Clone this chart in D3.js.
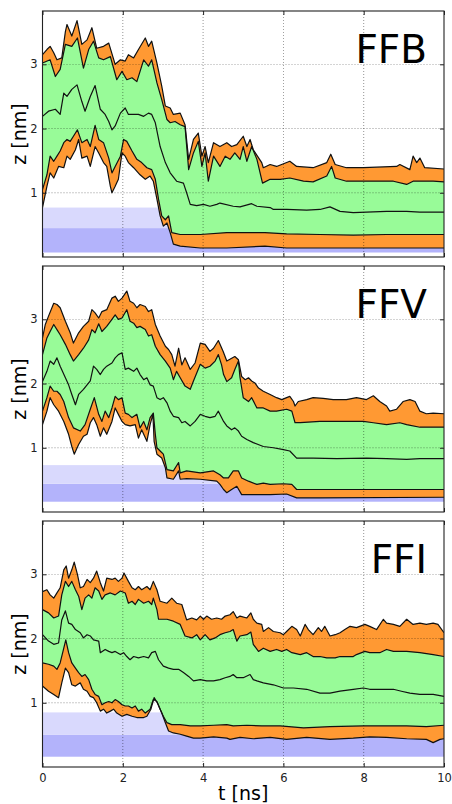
<!DOCTYPE html>
<html>
<head>
<meta charset="utf-8">
<script src="https://cdn.jsdelivr.net/npm/d3@7"></script>
<style>
  body { margin: 0; background: #fff; }
  svg { display: block; }
</style>
</head>
<body>
<script>
// values: [t (ns), z (nm)]
const ffbOuterTop = [[0,3.15],[0.11,3.23],[0.19,3.28],[0.28,3.18],[0.36,3.07],[0.48,3.10],[0.57,3.51],[0.61,3.62],[0.73,3.44],[0.86,3.68],[0.98,3.31],[1.11,3.38],[1.23,3.57],[1.35,3.25],[1.52,3.28],[1.65,3.33],[1.81,3.00],[1.94,3.07],[2.06,3.05],[2.14,3.15],[2.27,3.10],[2.39,3.23],[2.56,3.41],[2.64,3.28],[2.72,3.36],[2.85,3.02],[2.97,2.66],[3.06,2.35],[3.18,2.32],[3.26,2.22],[3.43,2.24],[3.55,2.06],[3.64,1.52],[3.76,1.83],[3.88,1.93],[3.97,1.57],[4.05,1.72],[4.13,1.47],[4.26,1.78],[4.42,1.72],[4.59,1.78],[4.71,1.72],[4.84,1.75],[5.00,1.88],[5.09,1.72],[5.17,1.83],[5.25,1.67],[5.46,1.47],[5.50,1.39],[5.67,1.44],[5.83,1.41],[6.16,1.49],[6.33,1.41],[6.74,1.39],[7.08,1.47],[7.18,1.60],[7.29,1.44],[7.57,1.39],[7.99,1.39],[8.82,1.41],[8.90,1.44],[9.15,1.36],[9.23,1.57],[9.32,1.47],[9.40,1.54],[9.52,1.39],[10,1.37]];
const ffbInnerTop = [[0,3.02],[0.19,3.07],[0.32,2.81],[0.44,2.92],[0.57,3.31],[0.73,3.28],[0.87,3.41],[1.02,2.94],[1.15,3.23],[1.27,3.36],[1.40,3.10],[1.52,3.07],[1.69,3.12],[1.85,2.76],[1.98,2.89],[2.10,2.76],[2.23,2.79],[2.35,2.73],[2.52,3.07],[2.64,2.97],[2.72,3.07],[2.85,2.71],[2.97,2.45],[3.10,2.14],[3.18,2.09],[3.30,2.11],[3.43,2.06],[3.55,2.03],[3.64,1.36],[3.76,1.62],[3.88,1.80],[3.97,1.41],[4.05,1.62],[4.13,1.18],[4.26,1.57],[4.42,1.41],[4.55,1.57],[4.67,1.52],[4.79,1.62],[4.92,1.52],[5.00,1.72],[5.09,1.49],[5.21,1.72],[5.34,1.52],[5.48,1.15],[5.67,1.21],[5.92,1.21],[6.16,1.23],[6.50,1.18],[6.74,1.17],[7.08,1.26],[7.20,1.41],[7.29,1.23],[7.57,1.18],[8.07,1.18],[8.74,1.18],[9.07,1.13],[9.23,1.18],[9.73,1.18],[10,1.17]];
const ffbCenter = [[0,2.19],[0.15,2.27],[0.32,2.30],[0.44,2.22],[0.53,2.55],[0.61,2.50],[0.73,2.61],[0.86,2.68],[0.98,2.42],[1.06,2.27],[1.19,2.50],[1.31,2.67],[1.44,2.30],[1.56,2.22],[1.65,2.11],[1.73,1.98],[1.81,2.04],[1.94,2.24],[2.06,2.32],[2.14,2.22],[2.27,2.22],[2.39,2.22],[2.52,2.19],[2.64,2.24],[2.72,2.22],[2.81,2.09],[2.93,1.72],[3.06,1.47],[3.18,1.31],[3.34,1.18],[3.51,1.15],[3.59,1.00],[3.68,0.82],[3.84,0.80],[4.01,0.82],[4.17,0.79],[4.34,0.82],[4.42,0.84],[4.75,0.79],[4.92,0.78],[5.21,0.83],[5.34,0.79],[5.67,0.77],[5.75,0.74],[6.08,0.74],[6.58,0.73],[6.91,0.74],[7.16,0.78],[7.41,0.71],[7.74,0.69],[8.57,0.71],[9.07,0.71],[9.40,0.70],[10,0.70]];
const ffbInnerBottom = [[0,1.05],[0.11,1.28],[0.19,1.57],[0.28,1.49],[0.36,1.57],[0.44,1.65],[0.53,1.78],[0.61,1.83],[0.69,1.80],[0.77,1.88],[0.87,1.98],[0.98,1.78],[1.11,1.83],[1.19,1.72],[1.31,2.05],[1.40,1.83],[1.52,1.78],[1.65,1.54],[1.73,1.31],[1.81,1.41],[1.94,1.57],[2.02,1.83],[2.10,1.80],[2.23,1.65],[2.35,1.52],[2.47,1.47],[2.60,1.39],[2.72,1.36],[2.81,1.21],[2.89,0.90],[2.97,0.64],[3.06,0.58],[3.14,0.64],[3.22,0.38],[3.43,0.35],[3.93,0.35],[4.59,0.38],[5.54,0.38],[6.08,0.36],[6.91,0.35],[7.74,0.34],[8.57,0.35],[9.40,0.35],[10,0.35]];
const ffbOuterBottom = [[0,0.77],[0.11,1.10],[0.19,1.31],[0.28,1.23],[0.40,1.41],[0.53,1.39],[0.61,1.57],[0.69,1.52],[0.82,1.67],[0.90,1.83],[0.98,1.54],[1.11,1.57],[1.19,1.41],[1.31,1.72],[1.40,1.62],[1.52,1.47],[1.60,1.41],[1.69,1.10],[1.73,1.00],[1.81,1.10],[1.89,1.21],[1.98,1.62],[2.06,1.57],[2.14,1.47],[2.27,1.39],[2.43,1.28],[2.56,1.21],[2.68,1.26],[2.76,1.18],[2.85,0.90],[2.93,0.64],[3.01,0.48],[3.10,0.53],[3.18,0.38],[3.26,0.20],[3.43,0.17],[3.93,0.14],[4.59,0.14],[5.54,0.17],[6.08,0.14],[10,0.14]];

const ffvOuterTop = [[0,2.71],[0.07,2.92],[0.15,3.05],[0.28,3.25],[0.36,3.23],[0.44,3.18],[0.57,2.97],[0.69,2.79],[0.77,2.63],[0.90,2.79],[1.02,2.89],[1.15,2.97],[1.23,3.15],[1.31,3.10],[1.40,3.02],[1.48,3.12],[1.60,3.15],[1.73,3.33],[1.81,3.36],[1.89,3.28],[1.98,3.33],[2.10,3.44],[2.18,3.28],[2.27,3.25],[2.35,3.18],[2.43,3.23],[2.56,3.20],[2.64,3.12],[2.72,3.15],[2.81,2.92],[2.93,2.74],[3.06,2.58],[3.14,2.53],[3.22,2.45],[3.30,2.27],[3.39,2.55],[3.47,2.29],[3.55,2.40],[3.68,2.22],[3.80,2.32],[3.93,2.63],[4.05,2.61],[4.17,2.50],[4.26,2.55],[4.38,2.67],[4.50,2.50],[4.59,2.35],[4.79,2.42],[4.88,2.37],[4.96,2.11],[5.05,2.06],[5.13,2.09],[5.21,2.04],[5.29,2.01],[5.38,1.93],[5.50,1.88],[5.67,1.83],[5.83,1.78],[5.96,1.75],[6.08,1.78],[6.16,1.80],[6.25,1.72],[6.29,1.65],[6.37,1.72],[6.58,1.75],[6.74,1.78],[6.99,1.77],[7.24,1.75],[7.57,1.75],[7.82,1.78],[8.07,1.75],[8.24,1.81],[8.40,1.72],[8.57,1.65],[8.65,1.57],[8.82,1.60],[8.98,1.72],[9.15,1.75],[9.28,1.72],[9.40,1.57],[9.56,1.53],[9.73,1.54],[10,1.53]];
const ffvInnerTop = [[0,2.45],[0.11,2.71],[0.19,2.81],[0.28,2.92],[0.36,2.84],[0.44,2.76],[0.57,2.61],[0.69,2.45],[0.77,2.35],[0.90,2.45],[1.02,2.55],[1.15,2.68],[1.23,2.84],[1.31,2.79],[1.40,2.93],[1.48,2.81],[1.60,2.89],[1.73,3.00],[1.81,3.07],[1.89,3.00],[1.98,3.02],[2.10,3.15],[2.18,2.97],[2.27,2.94],[2.35,2.87],[2.43,2.89],[2.56,2.84],[2.64,2.74],[2.72,2.76],[2.81,2.58],[2.93,2.45],[3.06,2.35],[3.18,2.24],[3.26,2.06],[3.34,2.19],[3.43,2.09],[3.55,1.96],[3.68,1.91],[3.76,2.04],[3.93,2.30],[4.05,2.24],[4.17,2.27],[4.30,2.35],[4.38,2.45],[4.46,2.29],[4.51,2.14],[4.59,2.03],[4.71,2.09],[4.79,2.22],[4.88,2.35],[4.92,2.09],[5.00,1.78],[5.13,1.72],[5.21,1.78],[5.34,1.62],[5.50,1.62],[5.67,1.57],[5.83,1.57],[6.08,1.60],[6.21,1.57],[6.29,1.39],[6.42,1.39],[6.91,1.41],[7.41,1.41],[7.99,1.41],[8.24,1.39],[8.57,1.36],[8.90,1.39],[9.07,1.36],[9.40,1.32],[10,1.32]];
const ffvCenter = [[0,2.03],[0.11,2.19],[0.19,2.35],[0.28,2.30],[0.36,2.40],[0.44,2.27],[0.57,2.09],[0.65,1.98],[0.73,1.83],[0.82,1.67],[0.90,1.83],[1.02,1.91],[1.11,1.98],[1.19,2.04],[1.27,2.27],[1.35,2.22],[1.44,2.14],[1.52,2.22],[1.60,2.27],[1.73,2.32],[1.81,2.40],[1.89,2.45],[1.98,2.48],[2.06,2.22],[2.14,2.24],[2.27,2.19],[2.35,2.24],[2.43,2.14],[2.52,2.06],[2.60,2.09],[2.68,1.98],[2.76,1.96],[2.85,1.78],[2.93,1.75],[3.01,1.78],[3.10,1.70],[3.18,1.57],[3.26,1.49],[3.39,1.47],[3.47,1.39],[3.55,1.41],[3.68,1.34],[3.80,1.41],[3.93,1.52],[4.05,1.49],[4.17,1.47],[4.30,1.49],[4.38,1.57],[4.51,1.41],[4.59,1.34],[4.71,1.28],[4.79,1.31],[4.88,1.26],[4.96,1.18],[5.09,1.13],[5.25,1.08],[5.50,1.02],[5.75,1.00],[6.00,0.97],[6.16,0.95],[6.33,0.84],[6.74,0.84],[7.33,0.83],[8.07,0.84],[8.57,0.83],[9.07,0.82],[9.40,0.83],[10,0.83]];
const ffvInnerBottom = [[0,1.57],[0.11,1.78],[0.19,1.96],[0.28,1.88],[0.36,1.88],[0.44,1.83],[0.53,1.72],[0.65,1.47],[0.77,1.31],[0.94,1.26],[1.06,1.36],[1.19,1.60],[1.29,1.78],[1.40,1.52],[1.48,1.41],[1.56,1.57],[1.65,1.47],[1.73,1.62],[1.81,1.80],[1.89,1.75],[1.98,1.78],[2.06,1.54],[2.14,1.52],[2.23,1.47],[2.35,1.52],[2.43,1.31],[2.52,1.41],[2.60,1.28],[2.68,1.47],[2.76,1.54],[2.81,1.21],[2.85,1.00],[2.93,0.95],[3.01,0.90],[3.10,0.66],[3.26,0.64],[3.39,0.77],[3.43,0.61],[3.59,0.64],[3.93,0.61],[4.26,0.64],[4.42,0.58],[4.51,0.53],[4.63,0.53],[4.75,0.64],[4.88,0.64],[4.96,0.53],[5.13,0.48],[5.34,0.43],[5.50,0.45],[5.67,0.43],[6.00,0.44],[6.21,0.43],[6.33,0.35],[6.91,0.35],[7.74,0.35],[8.57,0.35],[9.40,0.35],[10,0.35]];
const ffvOuterBottom = [[0,1.36],[0.11,1.57],[0.19,1.78],[0.28,1.67],[0.40,1.57],[0.53,1.41],[0.65,1.21],[0.73,1.02],[0.79,0.90],[0.90,1.05],[1.02,1.18],[1.11,1.21],[1.19,1.39],[1.27,1.47],[1.35,1.36],[1.44,1.18],[1.52,1.31],[1.60,1.21],[1.73,1.41],[1.81,1.62],[1.89,1.52],[1.98,1.41],[2.06,1.36],[2.18,1.34],[2.31,1.36],[2.39,1.15],[2.47,1.28],[2.60,1.10],[2.68,1.36],[2.75,1.52],[2.78,1.10],[2.85,0.90],[2.97,0.84],[3.06,0.69],[3.10,0.53],[3.26,0.51],[3.39,0.64],[3.43,0.51],[3.59,0.52],[3.93,0.51],[4.34,0.48],[4.42,0.43],[4.51,0.35],[4.59,0.30],[4.71,0.35],[4.84,0.40],[4.96,0.27],[5.25,0.27],[5.67,0.27],[6.08,0.28],[6.33,0.22],[6.91,0.22],[10,0.23]];

const ffiOuterTop = [[0,2.73],[0.11,2.76],[0.19,2.68],[0.28,2.63],[0.36,2.71],[0.44,2.79],[0.53,3.07],[0.59,3.13],[0.65,2.94],[0.73,3.07],[0.79,3.19],[0.87,3.00],[0.94,2.79],[1.02,2.81],[1.11,2.92],[1.19,2.87],[1.27,2.94],[1.35,3.05],[1.44,2.87],[1.52,2.74],[1.60,2.94],[1.73,2.92],[1.81,2.94],[1.89,2.89],[1.98,2.94],[2.03,3.02],[2.14,2.89],[2.23,2.79],[2.31,2.76],[2.39,2.81],[2.47,2.76],[2.60,2.81],[2.68,2.76],[2.76,2.89],[2.85,2.76],[2.93,2.58],[3.10,2.55],[3.22,2.63],[3.34,2.55],[3.47,2.53],[3.59,2.29],[3.72,2.32],[3.84,2.29],[3.93,2.35],[4.01,2.30],[4.09,2.35],[4.21,2.30],[4.34,2.32],[4.46,2.30],[4.55,2.35],[4.67,2.37],[4.75,2.42],[4.84,2.32],[4.92,2.35],[5.09,2.32],[5.19,2.40],[5.25,2.30],[5.34,2.24],[5.46,2.22],[5.50,2.11],[5.63,2.17],[5.75,2.11],[5.92,2.09],[6.00,2.06],[6.08,2.11],[6.21,2.19],[6.33,2.14],[6.42,2.04],[6.54,2.22],[6.62,2.14],[6.74,2.06],[6.87,2.17],[6.95,2.11],[7.03,2.19],[7.16,2.04],[7.29,2.06],[7.41,2.09],[7.53,2.14],[7.66,2.19],[7.82,2.17],[8.03,2.22],[8.15,2.19],[8.32,2.14],[8.49,2.30],[8.57,2.24],[8.74,2.22],[8.90,2.19],[9.07,2.30],[9.23,2.22],[9.40,2.24],[9.56,2.22],[9.73,2.24],[9.85,2.22],[10,2.09]];
const ffiInnerTop = [[0,2.45],[0.15,2.40],[0.28,2.32],[0.40,2.35],[0.48,2.68],[0.57,2.89],[0.65,2.81],[0.73,2.89],[0.82,2.76],[0.90,2.66],[0.98,2.45],[1.06,2.63],[1.15,2.68],[1.23,2.63],[1.31,2.79],[1.40,2.74],[1.48,2.61],[1.56,2.68],[1.69,2.71],[1.81,2.68],[1.94,2.74],[2.06,2.71],[2.14,2.55],[2.23,2.58],[2.31,2.53],[2.39,2.61],[2.52,2.55],[2.64,2.58],[2.72,2.53],[2.76,2.63],[2.85,2.45],[2.89,2.30],[3.10,2.30],[3.26,2.27],[3.43,2.22],[3.55,2.04],[3.72,2.01],[3.84,2.06],[3.93,1.98],[4.05,2.06],[4.17,1.98],[4.30,2.01],[4.42,2.06],[4.55,2.09],[4.67,2.11],[4.75,2.14],[4.84,1.96],[4.92,2.04],[5.09,2.06],[5.19,2.10],[5.25,1.91],[5.38,1.80],[5.50,1.85],[5.67,1.80],[5.83,1.83],[5.96,1.80],[6.08,1.83],[6.21,1.78],[6.42,1.75],[6.58,1.78],[6.74,1.72],[6.91,1.72],[7.08,1.70],[7.29,1.70],[7.41,1.72],[7.74,1.72],[7.82,1.75],[8.03,1.80],[8.15,1.78],[8.40,1.78],[8.57,1.83],[8.74,1.80],[9.07,1.80],[9.40,1.78],[9.73,1.75],[10,1.72]];
const ffiCenter = [[0,2.06],[0.15,1.96],[0.28,1.91],[0.40,1.93],[0.48,2.29],[0.57,2.43],[0.65,2.24],[0.73,2.22],[0.82,2.14],[0.94,2.09],[1.02,2.01],[1.11,2.06],[1.19,2.04],[1.27,1.98],[1.40,1.96],[1.44,1.78],[1.56,1.83],[1.65,1.80],[1.73,1.78],[1.81,1.80],[1.94,1.75],[2.02,1.78],[2.10,1.72],[2.18,1.67],[2.27,1.72],[2.39,1.70],[2.52,1.72],[2.64,1.70],[2.72,1.78],[2.81,1.80],[2.89,1.67],[3.01,1.57],[3.14,1.54],[3.26,1.52],[3.39,1.52],[3.51,1.47],[3.64,1.41],[3.76,1.34],[3.93,1.36],[4.09,1.34],[4.26,1.34],[4.42,1.36],[4.55,1.39],[4.67,1.41],[4.75,1.44],[4.84,1.39],[5.00,1.39],[5.17,1.44],[5.25,1.36],[5.34,1.34],[5.50,1.31],[5.75,1.28],[6.00,1.23],[6.25,1.23],[6.58,1.21],[6.91,1.15],[7.16,1.15],[7.41,1.18],[7.74,1.21],[7.99,1.23],[8.15,1.21],[8.40,1.21],[8.74,1.21],[8.94,1.18],[9.15,1.15],[9.40,1.13],[9.73,1.13],[10,1.10]];
const ffiInnerBottom = [[0,1.62],[0.15,1.60],[0.28,1.57],[0.36,1.52],[0.44,1.62],[0.53,1.85],[0.58,1.98],[0.65,1.78],[0.73,1.62],[0.82,1.54],[0.90,1.47],[0.98,1.41],[1.06,1.44],[1.15,1.36],[1.23,1.21],[1.31,1.13],[1.40,1.10],[1.48,0.97],[1.56,1.00],[1.65,1.02],[1.73,1.00],[1.81,1.05],[1.89,1.02],[1.98,0.97],[2.06,0.95],[2.14,0.95],[2.23,0.92],[2.31,0.95],[2.39,0.87],[2.47,0.90],[2.56,0.84],[2.68,0.90],[2.76,1.05],[2.85,1.02],[2.93,0.90],[3.01,0.79],[3.10,0.69],[3.22,0.66],[3.43,0.66],[3.68,0.64],[3.93,0.64],[4.26,0.65],[4.59,0.66],[4.75,0.64],[5.09,0.65],[5.46,0.64],[5.92,0.64],[6.50,0.61],[7.16,0.63],[7.99,0.64],[8.57,0.64],[9.07,0.64],[9.56,0.63],[10,0.65]];
const ffiOuterBottom = [[0,1.26],[0.15,1.18],[0.28,1.13],[0.40,1.08],[0.48,1.31],[0.57,1.54],[0.65,1.47],[0.73,1.28],[0.82,1.26],[0.94,1.31],[1.02,1.21],[1.11,1.18],[1.19,1.10],[1.27,1.08],[1.35,1.00],[1.44,0.87],[1.52,0.90],[1.60,0.84],[1.69,0.87],[1.77,0.90],[1.85,0.84],[1.98,0.79],[2.10,0.82],[2.23,0.79],[2.35,0.77],[2.52,0.77],[2.60,0.79],[2.70,0.90],[2.78,1.08],[2.86,1.00],[2.97,0.84],[3.06,0.69],[3.14,0.56],[3.26,0.53],[3.43,0.51],[3.59,0.48],[3.76,0.45],[3.93,0.45],[4.26,0.47],[4.59,0.45],[4.67,0.43],[4.92,0.46],[5.25,0.44],[5.67,0.46],[6.08,0.43],[6.58,0.46],[7.16,0.43],[7.74,0.45],[8.15,0.47],[8.57,0.46],[9.07,0.44],[9.56,0.43],[9.73,0.38],[9.90,0.43],[10,0.44]];

// membrane shading per panel: [bottom, middle, top] in nm
const ffbMembrane = [0.07, 0.45, 0.77];
const ffvMembrane = [0.16, 0.44, 0.73];
const ffiMembrane = [0.16, 0.50, 0.85];

const panelNames = ["FFB", "FFV", "FFI"];
const xTicks = [0, 2, 4, 6, 8, 10];
const yTicks = [1, 2, 3];

const panels = [
    {name: panelNames[0], membrane: ffbMembrane, outerTop: ffbOuterTop, innerTop: ffbInnerTop, center: ffbCenter, innerBottom: ffbInnerBottom, outerBottom: ffbOuterBottom},
    {name: panelNames[1], membrane: ffvMembrane, outerTop: ffvOuterTop, innerTop: ffvInnerTop, center: ffvCenter, innerBottom: ffvInnerBottom, outerBottom: ffvOuterBottom},
    {name: panelNames[2], membrane: ffiMembrane, outerTop: ffiOuterTop, innerTop: ffiInnerTop, center: ffiCenter, innerBottom: ffiInnerBottom, outerBottom: ffiOuterBottom},
];

const width = 452, height = 804;
const left = 42.5, right = 444;
const panelTops = [11, 266, 521];
const panelH = 246;
const font = "DejaVu Sans, sans-serif";

const svg = d3.select("body").append("svg")
    .attr("width", width)
    .attr("height", height);

const x = d3.scaleLinear().domain([0, 10]).range([left, right]);

panels.forEach((p, i) => {
    const top = panelTops[i];
    const y = d3.scaleLinear().domain([0, 3.83]).range([top + panelH, top]);
    const g = svg.append("g");

    g.append("clipPath").attr("id", "clip" + i)
        .append("rect")
        .attr("x", left).attr("y", top)
        .attr("width", right - left).attr("height", panelH);
    const plot = g.append("g").attr("clip-path", `url(#clip${i})`);

    // membrane shading
    plot.append("rect")
        .attr("x", x(0)).attr("width", x(10) - x(0))
        .attr("y", y(p.membrane[1])).attr("height", y(p.membrane[0]) - y(p.membrane[1]))
        .attr("fill", "#b3b3fb");
    plot.append("rect")
        .attr("x", x(0)).attr("width", x(10) - x(0))
        .attr("y", y(p.membrane[2])).attr("height", y(p.membrane[1]) - y(p.membrane[2]))
        .attr("fill", "#d9d9fd");

    const line = d3.line().x(d => x(d[0])).y(d => y(d[1]));

    // bands
    plot.append("path")
        .attr("d", line(p.outerTop.concat(p.outerBottom.slice().reverse())) + "Z")
        .attr("fill", "#ff9933");
    plot.append("path")
        .attr("d", line(p.innerTop.concat(p.innerBottom.slice().reverse())) + "Z")
        .attr("fill", "#98fb98");

    // lines
    [p.outerTop, p.innerTop, p.center, p.innerBottom, p.outerBottom].forEach(s => {
        plot.append("path")
            .attr("d", line(s))
            .attr("fill", "none")
            .attr("stroke", "#111")
            .attr("stroke-width", 1.2)
            .attr("stroke-linejoin", "round");
    });

    // grid
    plot.selectAll(".gx").data(xTicks.slice(1, -1)).enter().append("line")
        .attr("x1", d => x(d)).attr("x2", d => x(d))
        .attr("y1", top).attr("y2", top + panelH)
        .attr("stroke", "#000").attr("stroke-width", 0.6)
        .attr("stroke-dasharray", "1,2").attr("opacity", 0.7);
    plot.selectAll(".gy").data(yTicks).enter().append("line")
        .attr("x1", left).attr("x2", right)
        .attr("y1", d => y(d)).attr("y2", d => y(d))
        .attr("stroke", "#000").attr("stroke-width", 0.6)
        .attr("stroke-dasharray", "1,2").attr("opacity", 0.7);

    // ticks (inside, all four sides)
    const isLast = i === panels.length - 1;
    const xb = g.append("g").attr("transform", `translate(0,${top + panelH})`)
        .call(d3.axisBottom(x).tickValues(xTicks).tickSize(-4).tickPadding(7)
            .tickFormat(isLast ? d3.format("d") : () => ""));
    const xt = g.append("g").attr("transform", `translate(0,${top})`)
        .call(d3.axisTop(x).tickValues(xTicks).tickSize(-4).tickFormat(() => ""));
    const yl = g.append("g").attr("transform", `translate(${left},0)`)
        .call(d3.axisLeft(y).tickValues(yTicks).tickSize(-4).tickPadding(5).tickFormat(d3.format("d")));
    const yr = g.append("g").attr("transform", `translate(${right},0)`)
        .call(d3.axisRight(y).tickValues(yTicks).tickSize(-4).tickFormat(() => ""));
    [xb, xt, yl, yr].forEach(a => {
        a.select(".domain").remove();
        a.selectAll("line").attr("stroke", "#222");
        a.selectAll("text").attr("font-family", font).attr("font-size", 11.5).attr("fill", "#222");
    });

    // frame
    g.append("rect")
        .attr("x", left).attr("y", top)
        .attr("width", right - left).attr("height", panelH)
        .attr("fill", "none").attr("stroke", "#222").attr("stroke-width", 1.1);

    // panel name
    g.append("text")
        .attr("x", 427).attr("y", top + 52)
        .attr("text-anchor", "end")
        .attr("font-family", font).attr("font-size", 39)
        .text(p.name);

    // y label
    g.append("text")
        .attr("transform", `translate(26,${top + panelH / 2}) rotate(-90)`)
        .attr("text-anchor", "middle")
        .attr("font-family", font).attr("font-size", 19)
        .text("z [nm]");
});

svg.append("text")
    .attr("x", (left + right) / 2).attr("y", 800)
    .attr("text-anchor", "middle")
    .attr("font-family", font).attr("font-size", 19)
    .text("t [ns]");
</script>
</body>
</html>
